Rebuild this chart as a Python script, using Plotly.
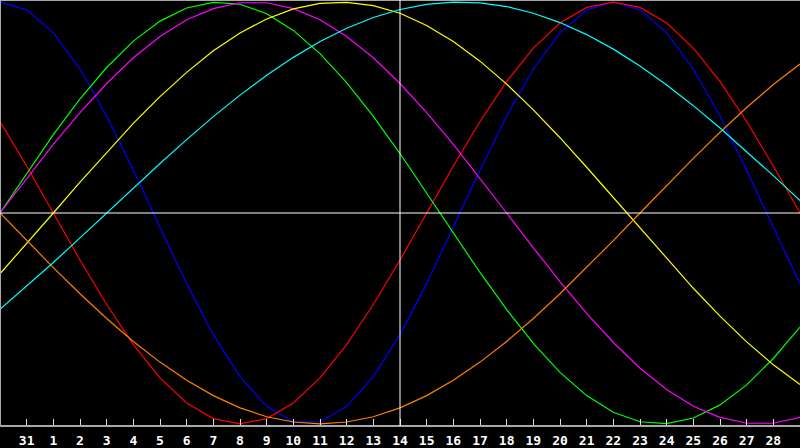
import plotly.graph_objects as go

# Day labels for each sampled point (x index 0..30)
day_labels = ["30", "31"] + [str(d) for d in range(1, 30)]
# Tick labels shown on the axis (index 1..29)
tick_labels = ["31"] + [str(d) for d in range(1, 29)]
today_index = 15  # "14"

physical = [1.000, 0.963, 0.854, 0.683, 0.460, 0.204, -0.068, -0.335, -0.577, -0.776,
            -0.917, -0.991, -0.991, -0.917, -0.776, -0.577, -0.335, -0.068, 0.204, 0.460,
            0.683, 0.854, 0.963, 1.000, 0.963, 0.854, 0.683, 0.460, 0.204, -0.068, -0.335]
emotional = [0.434, 0.223, 0.000, -0.223, -0.434, -0.624, -0.782, -0.901, -0.975, -1.000,
             -0.975, -0.901, -0.782, -0.624, -0.434, -0.223, 0.000, 0.223, 0.434, 0.624,
             0.782, 0.901, 0.975, 1.000, 0.975, 0.901, 0.782, 0.624, 0.434, 0.223, 0.000]
intellectual = [0.000, 0.189, 0.372, 0.541, 0.690, 0.815, 0.910, 0.972, 0.999, 0.990,
                0.945, 0.866, 0.756, 0.618, 0.458, 0.282, 0.095, -0.095, -0.282, -0.458,
                -0.618, -0.756, -0.866, -0.945, -0.990, -0.999, -0.972, -0.910, -0.815, -0.690, -0.541]
intuitive = [0.000, 0.165, 0.325, 0.476, 0.614, 0.736, 0.837, 0.916, 0.969, 0.997,
             0.997, 0.969, 0.916, 0.837, 0.736, 0.614, 0.476, 0.325, 0.165, 0.000,
             -0.165, -0.325, -0.476, -0.614, -0.736, -0.837, -0.916, -0.969, -0.997, -0.997, -0.969]
aesthetic = [-0.288, -0.146, 0.000, 0.146, 0.288, 0.425, 0.552, 0.667, 0.769, 0.854,
             0.920, 0.968, 0.994, 0.999, 0.983, 0.947, 0.889, 0.813, 0.720, 0.611,
             0.489, 0.357, 0.217, 0.073, -0.073, -0.217, -0.357, -0.489, -0.611, -0.720, -0.813]
awareness = [0.000, -0.131, -0.259, -0.383, -0.500, -0.609, -0.707, -0.793, -0.866, -0.924,
             -0.966, -0.991, -1.000, -0.991, -0.966, -0.924, -0.866, -0.793, -0.707, -0.609,
             -0.500, -0.383, -0.259, -0.131, 0.000, 0.131, 0.259, 0.383, 0.500, 0.609, 0.707]
spiritual = [-0.457, -0.348, -0.235, -0.118, 0.000, 0.118, 0.235, 0.348, 0.457, 0.559,
             0.653, 0.738, 0.813, 0.876, 0.927, 0.965, 0.989, 1.000, 0.996, 0.979,
             0.947, 0.903, 0.846, 0.777, 0.697, 0.607, 0.509, 0.403, 0.292, 0.177, 0.059]

series = [
    ("Physical", physical, "#0000ff"),
    ("Emotional", emotional, "#ff0000"),
    ("Intellectual", intellectual, "#00ff00"),
    ("Intuitive", intuitive, "#ff00ff"),
    ("Aesthetic", aesthetic, "#ffff00"),
    ("Awareness", awareness, "#ff8000"),
    ("Spiritual", spiritual, "#00ffff"),
]

x = list(range(len(day_labels)))

fig = go.Figure()
for name, vals, color in series:
    fig.add_trace(go.Scatter(x=x, y=vals, mode="lines", name=name,
                             line=dict(color=color, width=1.2),
                             text=day_labels, hoverinfo="text+y"))

gray = "#a8a8a8"
fig.update_layout(
    width=800, height=448,
    margin=dict(l=0, r=0, t=0, b=20),
    paper_bgcolor="black", plot_bgcolor="black",
    showlegend=False,
    xaxis=dict(range=[0, 30], tickmode="array",
               tickvals=list(range(1, 30)), ticktext=tick_labels,
               ticks="inside", ticklen=7, tickwidth=1, tickcolor="#e0e0e0",
               ticklabelstandoff=5,
               showgrid=False, zeroline=False, showline=False,
               tickfont=dict(family="DejaVu Sans Mono", size=13, color="white", weight="bold")),
    yaxis=dict(range=[-1.01, 1.01], visible=False, showgrid=False, zeroline=False),
    shapes=[
        # frame
        dict(type="line", xref="paper", yref="paper", x0=0, x1=1, y0=0, y1=0,
             line=dict(color=gray, width=2), layer="above"),
        dict(type="line", xref="paper", yref="paper", x0=0, x1=1, y0=1, y1=1,
             line=dict(color=gray, width=2), layer="above"),
        dict(type="line", xref="paper", yref="paper", x0=0, x1=0, y0=0, y1=1,
             line=dict(color=gray, width=2), layer="above"),
        # center and today lines
        dict(type="line", xref="paper", yref="y", x0=0, x1=1, y0=0, y1=0,
             line=dict(color="white", width=1), layer="above"),
        dict(type="line", xref="x", yref="paper", x0=today_index, x1=today_index, y0=0, y1=1,
             line=dict(color="white", width=1), layer="above"),
    ],
)

fig.write_html("out.html", config={"displayModeBar": False},
               post_script="document.body.style.margin='0';document.body.style.background='black';")
